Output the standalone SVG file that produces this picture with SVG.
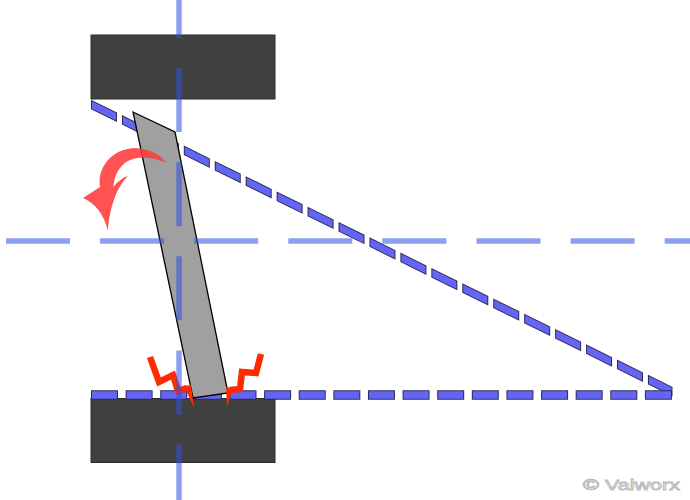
<svg xmlns="http://www.w3.org/2000/svg" width="690" height="500" viewBox="0 0 690 500">
<style>
.block{fill:#404040;stroke:#2c2c2c;stroke-width:1}
.dk{fill:none;stroke:#2b2b55;stroke-width:9.5}
.bl{fill:none;stroke:#6464f5;stroke-width:7.5}
.axis{fill:none;stroke:#3050e0;stroke-opacity:0.55;stroke-width:5.5;stroke-dasharray:64 30.1}
.zig{fill:none;stroke:#ff2a00;stroke-width:6.5;stroke-linejoin:miter;stroke-miterlimit:10}
.spike{fill:#ff2a00}
</style>
<rect width="690" height="500" fill="#ffffff"/>
<g id="top-block"><rect class="block" x="91" y="35" width="184" height="64"/></g>
<g id="bottom-block"><rect class="block" x="91" y="398.5" width="184" height="64"/></g>
<g id="connectors">
  <g transform="matrix(1 0.494 0 1 0 59.55)">
    <line class="dk" x1="91" y1="0" x2="672.5" y2="0" stroke-dasharray="26 4.94"/>
    <line class="bl" x1="92" y1="0" x2="671.5" y2="0" stroke-dasharray="24 6.94"/>
  </g>
  <line class="dk" x1="91" y1="395" x2="672.5" y2="395" stroke-dasharray="27 7.62"/>
  <line class="bl" x1="92" y1="395" x2="671.5" y2="395" stroke-dasharray="25 9.62"/>
</g>
<g id="plate"><polygon points="133,112 175,132 228,393 193,398" fill="#a0a0a0" stroke="#000" stroke-width="1.3" stroke-linejoin="miter"/></g>
<g id="rotation-arrow"><path d="M166,163 C160,154 150,149 134,148 C118,149 106,158 101,172 C99,178 99.5,183 100,187 L83,198 C95,203 104,214 108,231 C109,214 114,190 128,176 C122,178 117,182 113.5,187 C114,176 119,166 128,161 C140,155 154,157 166,163 Z" fill="#ff3a3a" fill-opacity="0.88"/></g>
<g id="impact-left">
  <polyline class="zig" points="150,357 159,382 173,375 178,391 187,388"/>
  <polygon class="spike" points="184,386 191,385 194,408"/>
</g>
<g id="impact-right">
  <polyline class="zig" points="261,354 256,373 242,372 240,389 230,390"/>
  <polygon class="spike" points="226,387 233,388 227,407"/>
</g>
<g id="axes">
  <line class="axis" x1="179" y1="0" x2="179" y2="500" stroke-dashoffset="26"/>
  <line class="axis" x1="6" y1="241" x2="690" y2="241"/>
</g>
<text x="583" y="490" font-family="Liberation Sans, Arial, sans-serif" font-size="14" fill="#ffffff" stroke="#b8b8b8" stroke-width="0.8" textLength="97" lengthAdjust="spacingAndGlyphs">© Valworx</text>
</svg>
